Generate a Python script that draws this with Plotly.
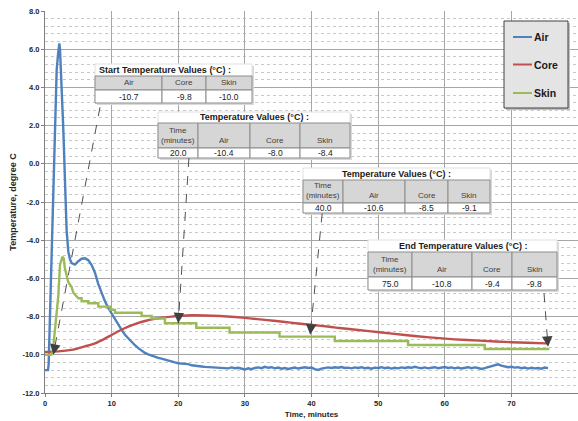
import plotly.graph_objects as go

# ---------------- data ----------------
air_t_head = [0, 0.45, 0.55, 0.7, 0.85, 1.0, 1.2, 1.35, 1.55, 1.75, 1.95, 2.05, 2.15, 2.25, 2.35,
              2.5, 2.75, 3.0, 3.25, 3.5, 3.75, 4.0, 4.5, 5.0, 5.5, 6.0, 6.5, 7.0, 7.5, 8.0,
              8.5, 9.0, 9.5, 10.0, 10.5, 11.0, 11.5, 12.0, 12.5, 13.0, 13.5, 14.0, 14.5, 15.0,
              15.5, 16.0, 16.5, 17.0, 17.5, 18.0, 18.5, 19.0, 19.5, 20.0, 20.5, 21.0, 21.5,
              22.0, 22.5, 23.0, 23.5, 24.0, 24.5]
air_v_head = [-10.8, -10.8, -10.5, -8.5, -6.5, -5.2, -2.6, -0.4, 2.6, 4.9, 5.7, 6.2, 6.3, 6.0, 5.3,
              3.5, 1.8, -0.9, -3.5, -4.6, -5.0, -5.2, -5.28, -5.1, -4.97, -4.95, -5.05, -5.3, -5.7, -6.3,
              -6.8, -7.2, -7.55, -7.85, -8.15, -8.45, -8.7, -8.95, -9.15, -9.3, -9.5, -9.65, -9.8, -9.9,
              -9.98, -10.05, -10.12, -10.16, -10.2, -10.26, -10.28, -10.35, -10.4, -10.44, -10.46, -10.5, -10.49,
              -10.55, -10.56, -10.6, -10.61, -10.63, -10.64]
air_tail_start = 25.0
air_tail_step = 0.5
air_v_tail = [-10.64, -10.67, -10.65, -10.69, -10.67, -10.71, -10.66, -10.70, -10.68, -10.73,
              -10.77, -10.71, -10.75, -10.69, -10.66, -10.70, -10.63, -10.68, -10.65, -10.71,
              -10.67, -10.73, -10.69, -10.74, -10.70, -10.67, -10.72, -10.68, -10.65, -10.69,
              -10.67, -10.75, -10.79, -10.72, -10.68, -10.66, -10.69, -10.65, -10.68, -10.64,
              -10.69, -10.67, -10.71, -10.66, -10.69, -10.65, -10.70, -10.68, -10.73, -10.67,
              -10.69, -10.65, -10.70, -10.67, -10.72, -10.68, -10.71, -10.66, -10.69, -10.65,
              -10.68, -10.63, -10.67, -10.70, -10.66, -10.71, -10.68, -10.65, -10.70, -10.67,
              -10.64, -10.69, -10.66, -10.71, -10.67, -10.72, -10.68, -10.65, -10.70, -10.66,
              -10.69, -10.74, -10.70, -10.65, -10.61, -10.55, -10.50, -10.57, -10.60, -10.65,
              -10.63, -10.67, -10.65, -10.70, -10.67, -10.72, -10.68, -10.71, -10.69, -10.73,
              -10.67, -10.70]

core_t = [0, 2, 4, 5, 6, 7.5, 9, 10, 11.25, 12.5, 14, 15, 16.5, 17.5, 19, 20, 22, 24, 26.25,
          28.5, 30.7, 33, 35.7, 38, 40.2, 42.7, 44.2, 47, 50.2, 54, 57.7, 61.5, 65.2, 70, 75.2, 75.6]
core_v = [-9.85, -9.82, -9.74, -9.66, -9.56, -9.4, -9.15, -8.96, -8.73, -8.53, -8.33, -8.23, -8.12,
          -8.06, -8.0, -7.97, -7.93, -7.94, -7.97, -8.02, -8.09, -8.17, -8.27, -8.36, -8.44, -8.53,
          -8.6, -8.7, -8.82, -8.96, -9.09, -9.19, -9.26, -9.34, -9.4, -9.41]

skin_t = [0, 0.9, 1.15, 1.4, 1.7, 2.0, 2.25, 2.6, 2.8, 3.0, 3.5, 4.0, 4.25, 5.0, 5.5, 5.5, 6.5, 6.5,
          8.0, 8.0, 9.8, 9.8, 10.5, 10.5, 14.5, 14.5, 16.0, 16.0, 18.0, 18.0, 22.7, 22.7, 27.7, 27.7,
          35.2, 35.2, 43.5, 43.5, 54.5, 54.5, 66.0, 66.0, 75.7]
skin_v = [-10.0, -10.0, -9.9, -8.9, -7.8, -6.9, -5.3, -4.87, -4.95, -5.5, -6.2, -6.45, -6.75, -7.04,
          -7.04, -7.2, -7.2, -7.3, -7.3, -7.48, -7.48, -7.65, -7.65, -7.8, -7.8, -7.97, -7.97, -8.1,
          -8.1, -8.35, -8.35, -8.58, -8.58, -8.83, -8.83, -9.05, -9.05, -9.28, -9.28, -9.49, -9.49,
          -9.7, -9.7]

series_names = ["Air", "Core", "Skin"]
series_colors = ["#4F81BD", "#C0504D", "#9BBB59"]

x_ticks = [0, 10, 20, 30, 40, 50, 60, 70, 80]
y_ticks = [-12, -10, -8, -6, -4, -2, 0, 2, 4, 6, 8]

start_title = "Start Temperature Values (°C) :"
mid_title = "Temperature Values (°C) :"
end_title = "End Temperature Values (°C) :"
start_header = ["Air", "Core", "Skin"]
start_values = ["-10.7", "-9.8", "-10.0"]
time_header = ["Time<br>(minutes)", "Air", "Core", "Skin"]
t20_values = ["20.0", "-10.4", "-8.0", "-8.4"]
t40_values = ["40.0", "-10.6", "-8.5", "-9.1"]
end_values = ["75.0", "-10.8", "-9.4", "-9.8"]

# ---------------- layout geometry ----------------
W, H = 578, 421
ML, MR, MT, MB = 45, 0, 11, 28
PW = W - ML - MR
PH = H - MT - MB
X_RANGE = [0, 80]
Y_RANGE = [-12, 8]
FONT = "Liberation Sans, Arial, sans-serif"


def px(x):
    return (x - ML) / PW


def py(y):
    return (MT + PH - y) / PH


air_t = air_t_head + [air_tail_start + air_tail_step * i for i in range(len(air_v_tail))]
air_v = air_v_head + air_v_tail

fig = go.Figure()
fig.add_trace(go.Scatter(x=air_t, y=air_v, mode="lines", name=series_names[0],
                         line=dict(color=series_colors[0], width=2.4)))
fig.add_trace(go.Scatter(x=core_t, y=core_v, mode="lines", name=series_names[1],
                         line=dict(color=series_colors[1], width=2.4, shape="spline", smoothing=0.6)))
fig.add_trace(go.Scatter(x=skin_t, y=skin_v, mode="lines", name=series_names[2],
                         line=dict(color=series_colors[2], width=2.4)))

shapes = []
annots = []

# ---------------- tables ----------------
CELL_LINE = "#8c8c8c"
HEAD_FILL = "#d6d6d6"


def add_table(title, title_align, col_edges, y_title, y_head, y_val, y_bot, headers, values):
    x0, x1 = col_edges[0], col_edges[-1]
    shapes.append(dict(type="rect", xref="paper", yref="paper", layer="above",
                       x0=px(x0 + 2), x1=px(x1 + 2), y0=py(y_bot + 2), y1=py(y_title + 2),
                       fillcolor="#d9d9d9", line=dict(width=0)))
    shapes.append(dict(type="rect", xref="paper", yref="paper", layer="above",
                       x0=px(x0), x1=px(x1), y0=py(y_bot), y1=py(y_title),
                       fillcolor="white", line=dict(color="#e0e0e0", width=1)))
    if title_align == "left":
        tx, xa = px(x0 + 2), "left"
    else:
        tx, xa = px((x0 + x1) / 2), "center"
    annots.append(dict(xref="paper", yref="paper", x=tx, y=py((y_title + y_head) / 2),
                       xanchor=xa, yanchor="middle", text="<b>" + title + "</b>", showarrow=False,
                       font=dict(family=FONT, size=9, color="#1a1a1a")))
    for i in range(len(col_edges) - 1):
        a, b = col_edges[i], col_edges[i + 1]
        shapes.append(dict(type="rect", xref="paper", yref="paper", layer="above",
                           x0=px(a), x1=px(b), y0=py(y_val), y1=py(y_head),
                           fillcolor=HEAD_FILL, line=dict(color=CELL_LINE, width=1)))
        shapes.append(dict(type="rect", xref="paper", yref="paper", layer="above",
                           x0=px(a), x1=px(b), y0=py(y_bot), y1=py(y_val),
                           fillcolor="white", line=dict(color=CELL_LINE, width=1)))
        annots.append(dict(xref="paper", yref="paper", x=px((a + b) / 2), y=py(y_val - 1),
                           xanchor="center", yanchor="bottom", text=headers[i], showarrow=False,
                           font=dict(family=FONT, size=8, color="#404040")))
        annots.append(dict(xref="paper", yref="paper", x=px((a + b) / 2), y=py((y_val + y_bot) / 2),
                           xanchor="center", yanchor="middle", text=values[i], showarrow=False,
                           font=dict(family=FONT, size=8.5, color="#1a1a1a")))


add_table(start_title, "left", [95, 162, 206, 252], 64, 76, 90, 103, start_header, start_values)
add_table(mid_title, "center", [158, 198, 250, 300, 350], 112, 123, 148, 158, time_header, t20_values)
add_table(mid_title, "center", [303, 343, 405, 448, 490], 168, 180, 203, 213, time_header, t40_values)
add_table(end_title, "center", [368, 412, 472, 512, 557], 240, 252, 277, 290, time_header, end_values)

# ---------------- dashed pointer arrows (data coords: tail -> head) ----------------
arrows = [((8.25, 2.96), (1.25, -10.0)),
          ((21.6, 0.3), (20.0, -8.35)),
          ((41.6, -2.6), (39.8, -8.95)),
          ((74.9, -6.78), (75.5, -9.58))]
sx = PW / (X_RANGE[1] - X_RANGE[0])
sy = PH / (Y_RANGE[1] - Y_RANGE[0])
for (tx, ty), (hx, hy) in arrows:
    shapes.append(dict(type="line", xref="x", yref="y", layer="above", x0=tx, y0=ty, x1=hx, y1=hy,
                       line=dict(color="#505050", width=1, dash="dash")))
    dxp = (tx - hx) * sx
    dyp = -(ty - hy) * sy
    L = (dxp ** 2 + dyp ** 2) ** 0.5
    annots.append(dict(x=hx, y=hy, xref="x", yref="y", ax=dxp / L * 9, ay=dyp / L * 9,
                       text="", showarrow=True, arrowhead=2, arrowsize=1.4, arrowwidth=1.5,
                       arrowcolor="#404040", standoff=0))

# ---------------- custom legend ----------------
LX0, LX1, LY0, LY1 = 504, 568, 21, 108
shapes.append(dict(type="rect", xref="paper", yref="paper", layer="above",
                   x0=px(LX0 + 2), x1=px(LX1 + 2), y0=py(LY1 + 2), y1=py(LY0 + 2),
                   fillcolor="#bfbfbf", line=dict(width=0)))
shapes.append(dict(type="rect", xref="paper", yref="paper", layer="above",
                   x0=px(LX0), x1=px(LX1), y0=py(LY1), y1=py(LY0),
                   fillcolor="#e4e4e4", line=dict(color="#404040", width=1)))
for name, color, yy in zip(series_names, series_colors, [37, 64.5, 93]):
    shapes.append(dict(type="line", xref="paper", yref="paper", layer="above",
                       x0=px(513), x1=px(532), y0=py(yy), y1=py(yy),
                       line=dict(color=color, width=2)))
    annots.append(dict(xref="paper", yref="paper", x=px(532), y=py(yy), xanchor="left", yanchor="middle",
                       text="<b>" + name + "</b>", showarrow=False,
                       font=dict(family=FONT, size=10.5, color="#1a1a1a")))

fig.update_layout(
    width=W, height=H, template="none",
    margin=dict(l=ML, r=MR, t=MT, b=MB, pad=0),
    paper_bgcolor="white", plot_bgcolor="white",
    showlegend=False, hovermode=False,
    shapes=shapes, annotations=annots,
    font=dict(family=FONT, color="#262626"),
    xaxis=dict(range=X_RANGE, tickvals=x_ticks, ticktext=[str(v) for v in x_ticks],
               showgrid=True, gridcolor="#a6a6a6", gridwidth=1, zeroline=False,
               showline=True, linecolor="#7f7f7f", linewidth=1,
               ticks="outside", ticklen=3, tickcolor="#7f7f7f",
               tickfont=dict(family=FONT, size=7.5, color="#262626", weight="bold"),
               title=dict(text="<b>Time, minutes</b>", font=dict(family=FONT, size=8, color="#262626"),
                          standoff=4),
               automargin=False, fixedrange=True),
    yaxis=dict(range=Y_RANGE, tickvals=y_ticks, ticktext=["%.1f" % v for v in y_ticks],
               showgrid=True, gridcolor="#a6a6a6", gridwidth=1, zeroline=False,
               showline=True, linecolor="#7f7f7f", linewidth=1,
               ticks="outside", ticklen=3, tickcolor="#7f7f7f",
               minor=dict(dtick=0.4, showgrid=True, gridcolor="#c8c8c8", griddash="dot", gridwidth=1,
                          ticks=""),
               tickfont=dict(family=FONT, size=7.5, color="#262626", weight="bold"),
               title=dict(text="<b>Temperature, degree C</b>", font=dict(family=FONT, size=9, color="#262626"),
                          standoff=4),
               automargin=False, fixedrange=True),
)

fig.write_html("out.html", config={"displayModeBar": False, "staticPlot": True},
               post_script="document.body.style.margin='0';document.body.style.overflow='hidden';")
